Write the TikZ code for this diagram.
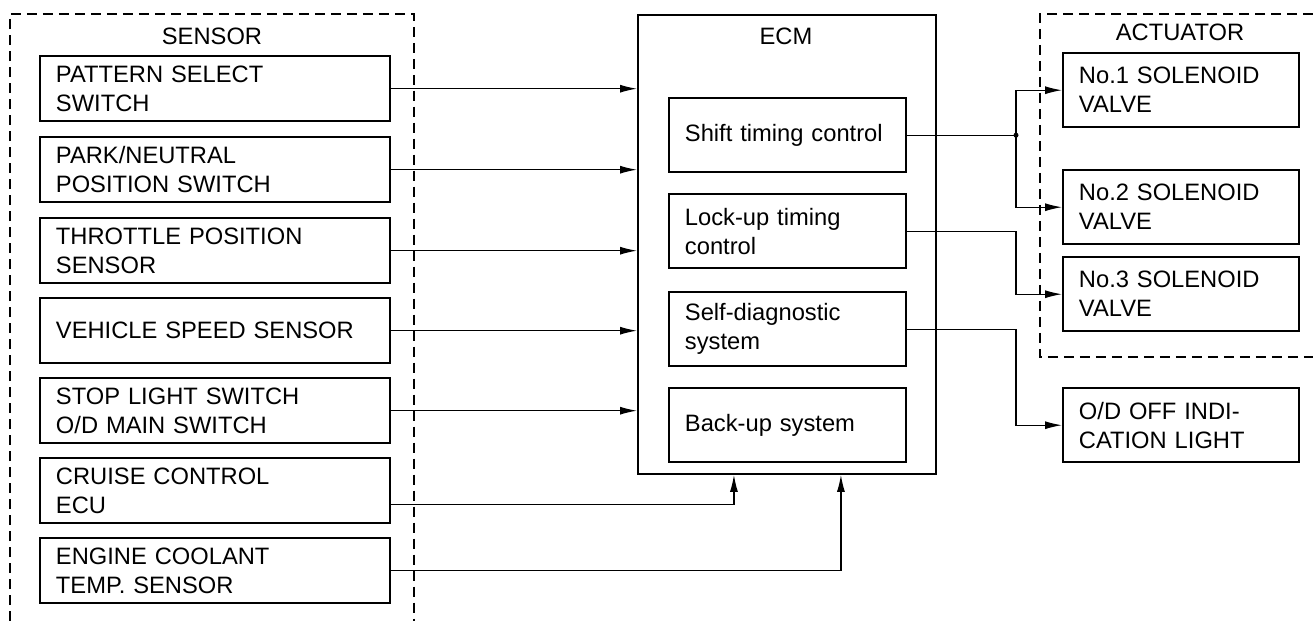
\documentclass[tikz,border=0pt]{standalone}
\usepackage{fontspec}
\setmainfont{Liberation Sans}
\usetikzlibrary{arrows.meta}

\begin{document}
\begin{tikzpicture}[x=0.02cm,y=-0.02cm,
	font=\fontsize{13.5}{16.5}\selectfont,
	>={Latex[length=3.4mm,width=1.6mm]},
	sensbox/.style={draw,line width=1.1pt,anchor=north west,align=left,text width=6.36cm,inner xsep=0.32cm,inner ysep=0pt,minimum height=1.31cm},
	ctrlbox/.style={draw,line width=1.1pt,anchor=north west,align=left,text width=4.1cm,inner xsep=0.32cm,inner ysep=0pt,minimum height=1.49cm},
	actbox/.style={draw,line width=1.1pt,anchor=north west,align=left,text width=4.08cm,inner xsep=0.32cm,inner ysep=0pt,minimum height=1.49cm},
	frame/.style={line width=0.8pt,dash pattern=on 0.2cm off 0.12cm},
	wire/.style={line width=0.7pt}]
	\useasboundingbox (0,0) rectangle (1313,621);

	% group frames
	\draw[frame] (10,621) -- (10,14) -- (414,14) -- (414,621);
	\draw[frame] (1313,14) -- (1040,14) -- (1040,357) -- (1313,357);
	\node[anchor=base] (sensor) at (212,45) {SENSOR};
	\node[anchor=base] (actuator) at (1180,41) {ACTUATOR};

	% sensors
	\node[sensbox] (s1) at (39,55) {PATTERN SELECT\\SWITCH};
	\node[sensbox] (s2) at (39,136) {PARK/NEUTRAL\\POSITION SWITCH};
	\node[sensbox] (s3) at (39,217) {THROTTLE POSITION\\SENSOR};
	\node[sensbox] (s4) at (39,297) {VEHICLE SPEED SENSOR};
	\node[sensbox] (s5) at (39,377) {STOP LIGHT SWITCH\\O/D MAIN SWITCH};
	\node[sensbox] (s6) at (39,457) {CRUISE CONTROL\\ECU};
	\node[sensbox] (s7) at (39,537) {ENGINE COOLANT\\TEMP. SENSOR};

	% ECM
	\node[draw,line width=1.1pt,anchor=north west,minimum width=5.96cm,minimum height=9.18cm,inner sep=0pt] (ecm) at (637,14) {};
	\node[anchor=base] (ecmlabel) at (786,45) {ECM};
	\node[ctrlbox] (c1) at (668,97) {Shift timing control};
	\node[ctrlbox] (c2) at (668,193) {Lock-up timing\\control};
	\node[ctrlbox] (c3) at (668,291) {Self-diagnostic\\system};
	\node[ctrlbox] (c4) at (668,387) {Back-up system};

	% actuators
	\node[actbox] (a1) at (1062,52) {No.1 SOLENOID\\VALVE};
	\node[actbox] (a2) at (1062,169) {No.2 SOLENOID\\VALVE};
	\node[actbox] (a3) at (1062,256) {No.3 SOLENOID\\VALVE};
	\node[actbox] (od) at (1062,387) {O/D OFF INDI-\\CATION LIGHT};

	% inputs
	\draw[wire,->] (s1.east) -- (s1.east -| ecm.west);
	\draw[wire,->] (s2.east) -- (s2.east -| ecm.west);
	\draw[wire,->] (s3.east) -- (s3.east -| ecm.west);
	\draw[wire,->] (s4.east) -- (s4.east -| ecm.west);
	\draw[wire,->] (s5.east) -- (s5.east -| ecm.west);
	\draw[wire,->] ([yshift=-0.28cm]s6.east) -| ([xshift=-1.06cm]ecm.south);
	\draw[wire,->] (s7.east) -| ([xshift=1.08cm]ecm.south);

	% outputs
	\coordinate (jx) at (1016,0);
	\draw[wire] (c1.east) -- (c1.east -| jx) coordinate (j);
	\draw[wire,->] (j) |- (a1.west);
	\draw[wire,->] (j) |- (a2.west);
	\fill (j) circle (0.05cm);
	\draw[wire,->] (c2.east) -- (c2.east -| jx) |- (a3.west);
	\draw[wire,->] (c3.east) -- (c3.east -| jx) |- (od.west);
\end{tikzpicture}
\end{document}
